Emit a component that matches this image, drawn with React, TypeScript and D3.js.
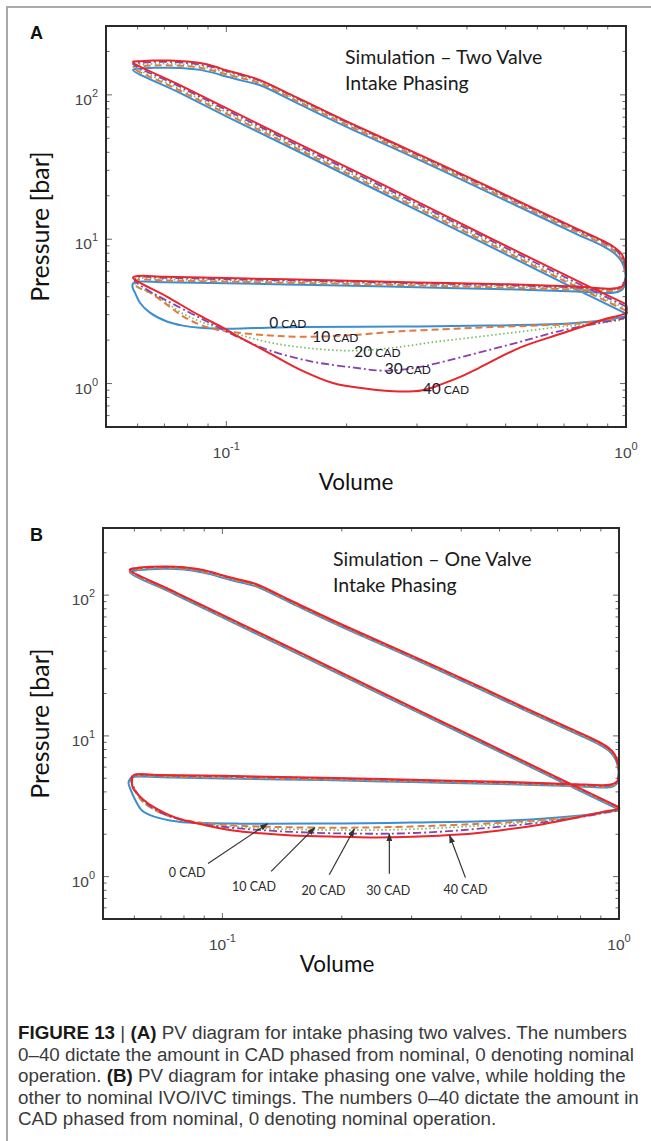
import React from 'react';
import * as d3 from 'd3';

type Pt = [number, number];

// axis domains (volume normalised, pressure in bar)
const volumeDomain: [number, number] = [0.05, 1];
const pressureDomain: [number, number] = [0.5, 300];

const cadLabels = ['0', '10', '20', '30', '40'];

// ---- Panel A: two valve intake phasing, [volume, pressure]
const twoValve0: Pt[] = [
  [1.0, 3.05], [0.7, 4.95], [0.45, 9.1], [0.25, 20.4], [0.15, 41], [0.1, 71], [0.075, 106], [0.0584, 149],
  [0.061, 152], [0.066, 154], [0.0723, 154], [0.08, 152], [0.0859, 149], [0.093, 142], [0.1, 134], [0.11, 125],
  [0.121, 117], [0.15, 88], [0.2, 60], [0.3, 36], [0.45, 21.3], [0.6, 14.6], [0.75, 10.9], [0.88, 8.9],
  [0.94, 7.9], [0.975, 7.0], [0.993, 6.1], [0.998, 5.3], [0.99, 4.7], [0.97, 4.4], [0.93, 4.25],
  [0.75, 4.35], [0.5, 4.5], [0.3, 4.65], [0.18, 4.8], [0.1, 4.95], [0.07, 5.03], [0.06, 5.07],
  [0.0585, 4.95], [0.0582, 4.75], [0.0585, 4.5], [0.0591, 4.26], [0.0608, 3.63], [0.0644, 3.1], [0.071, 2.69],
  [0.0779, 2.52], [0.0859, 2.44], [0.1039, 2.4], [0.1264, 2.44], [0.1528, 2.46], [0.272, 2.48], [0.45, 2.52],
  [0.615, 2.56], [0.75, 2.63], [0.859, 2.72], [0.95, 2.85], [1.0, 2.95], [1.0, 3.05],
];
const twoValve10: Pt[] = [
  [1.0, 3.2], [0.7, 5.15], [0.45, 9.45], [0.25, 21.2], [0.15, 42.5], [0.1, 74], [0.075, 110], [0.0584, 155],
  [0.061, 158], [0.066, 160], [0.0723, 160], [0.08, 158], [0.0859, 154], [0.093, 147], [0.1, 139], [0.11, 130],
  [0.121, 121], [0.15, 91], [0.2, 62], [0.3, 37.2], [0.45, 22], [0.6, 15.1], [0.75, 11.3], [0.88, 9.2],
  [0.94, 8.2], [0.975, 7.25], [0.993, 6.3], [0.999, 5.45], [0.99, 4.85], [0.97, 4.55], [0.93, 4.4],
  [0.75, 4.48], [0.5, 4.62], [0.3, 4.78], [0.18, 4.93], [0.1, 5.08], [0.07, 5.17], [0.06, 5.22],
  [0.0588, 5.0], [0.0598, 4.69], [0.0644, 4.26], [0.071, 3.52], [0.0779, 2.92], [0.0859, 2.56], [0.0947, 2.36],
  [0.1039, 2.27], [0.1264, 2.16], [0.1528, 2.11], [0.204, 2.16], [0.272, 2.3], [0.375, 2.4], [0.458, 2.46],
  [0.615, 2.53], [0.75, 2.6], [0.879, 2.73], [1.0, 2.92], [1.0, 3.2],
];
const twoValve20: Pt[] = [
  [1.0, 3.3], [0.7, 5.3], [0.45, 9.7], [0.25, 21.8], [0.15, 43.5], [0.1, 76], [0.075, 113], [0.0584, 159],
  [0.061, 162], [0.066, 164], [0.0723, 164], [0.08, 162], [0.0859, 158], [0.093, 151], [0.1, 142], [0.11, 133],
  [0.121, 124], [0.15, 93], [0.2, 63.5], [0.3, 38], [0.45, 22.5], [0.6, 15.4], [0.75, 11.5], [0.88, 9.4],
  [0.94, 8.35], [0.975, 7.4], [0.993, 6.45], [0.999, 5.55], [0.99, 4.95], [0.97, 4.62], [0.93, 4.47],
  [0.75, 4.55], [0.5, 4.7], [0.3, 4.86], [0.18, 5.02], [0.1, 5.17], [0.07, 5.27], [0.06, 5.32],
  [0.0589, 5.1], [0.0605, 4.6], [0.0644, 4.32], [0.071, 3.62], [0.0779, 3.05], [0.0859, 2.7], [0.1039, 2.25],
  [0.129, 1.92], [0.1637, 1.75], [0.2085, 1.69], [0.2655, 1.78], [0.336, 1.95], [0.428, 2.11], [0.545, 2.29],
  [0.69, 2.48], [0.879, 2.64], [1.0, 2.88], [1.0, 3.3],
];
const twoValve30: Pt[] = [
  [1.0, 3.42], [0.7, 5.5], [0.45, 10.05], [0.25, 22.6], [0.15, 45], [0.1, 78.5], [0.075, 117], [0.0584, 164],
  [0.061, 167], [0.066, 169], [0.0723, 169], [0.08, 166], [0.0859, 162], [0.093, 155], [0.1, 146], [0.11, 136],
  [0.121, 126], [0.15, 95], [0.2, 64.7], [0.3, 38.7], [0.45, 22.9], [0.6, 15.7], [0.75, 11.7], [0.88, 9.55],
  [0.94, 8.5], [0.975, 7.55], [0.993, 6.6], [0.999, 5.65], [0.99, 5.05], [0.97, 4.7], [0.93, 4.55],
  [0.75, 4.63], [0.5, 4.8], [0.3, 4.95], [0.18, 5.12], [0.1, 5.28], [0.07, 5.4], [0.06, 5.45],
  [0.059, 5.2], [0.0644, 4.35], [0.071, 3.75], [0.0859, 2.85], [0.1039, 2.18], [0.1264, 1.72], [0.1637, 1.42],
  [0.2085, 1.29], [0.246, 1.23], [0.29, 1.27], [0.336, 1.38], [0.428, 1.64], [0.545, 1.95], [0.69, 2.33],
  [0.879, 2.66], [1.0, 2.92], [1.0, 3.42],
];
const twoValve40: Pt[] = [
  [1.0, 3.55], [0.7, 5.7], [0.45, 10.4], [0.25, 23.4], [0.15, 46.5], [0.1, 81], [0.075, 120], [0.0584, 169],
  [0.061, 171], [0.066, 173], [0.0723, 173], [0.08, 170], [0.0859, 166], [0.093, 158], [0.1, 148], [0.11, 138],
  [0.121, 127], [0.15, 96], [0.2, 65.5], [0.3, 39.2], [0.45, 23.3], [0.6, 15.9], [0.75, 11.9], [0.88, 9.7],
  [0.94, 8.7], [0.975, 7.9], [0.993, 7.0], [1.0, 6.0], [0.995, 5.0], [0.97, 4.65], [0.93, 4.55],
  [0.75, 4.7], [0.5, 4.88], [0.3, 5.02], [0.18, 5.2], [0.1, 5.38], [0.07, 5.5], [0.06, 5.56],
  [0.0584, 5.41], [0.071, 4.0], [0.0859, 2.95], [0.098, 2.44], [0.1039, 2.22], [0.1264, 1.66], [0.1528, 1.25],
  [0.1847, 1.01], [0.2246, 0.92], [0.2716, 0.88], [0.31, 0.9], [0.346, 0.99], [0.39, 1.13], [0.428, 1.28],
  [0.545, 1.78], [0.69, 2.22], [0.879, 2.78], [1.0, 3.12], [1.0, 3.55],
];
const twoValveSeries = [twoValve0, twoValve10, twoValve20, twoValve30, twoValve40];

// label anchors (left edge, middle) for panel A
const twoValveLabelVolume = [0.128, 0.164, 0.209, 0.249, 0.31];
const twoValveLabelPressure = [2.64, 2.11, 1.66, 1.27, 0.92];

// ---- Panel B: one valve intake phasing
const oneValve0: Pt[] = [
  [1.0, 3.0], [0.7, 4.85], [0.45, 8.9], [0.25, 19.8], [0.15, 40], [0.1, 69.5], [0.075, 103], [0.0584, 146],
  [0.061, 150], [0.066, 153], [0.0723, 154], [0.08, 152], [0.0859, 148], [0.093, 141], [0.1, 133], [0.11, 124],
  [0.121, 116], [0.15, 87], [0.2, 59.5], [0.3, 35.8], [0.45, 21.2], [0.6, 14.5], [0.75, 10.9], [0.88, 8.85],
  [0.94, 7.9], [0.975, 7.0], [0.993, 6.1], [0.998, 5.3], [0.99, 4.65], [0.97, 4.4], [0.93, 4.3],
  [0.75, 4.4], [0.5, 4.55], [0.3, 4.7], [0.18, 4.85], [0.1, 4.98], [0.07, 5.08], [0.06, 5.12],
  [0.0585, 4.95], [0.058, 4.6], [0.0586, 4.2], [0.0603, 3.5], [0.0627, 2.95], [0.067, 2.68], [0.0778, 2.45],
  [0.09, 2.4], [0.11, 2.38], [0.13, 2.38], [0.2, 2.39], [0.3, 2.42], [0.45, 2.47], [0.6, 2.55], [0.8, 2.72],
  [0.93, 2.88], [1.0, 2.98], [1.0, 3.0],
];
const oneValve10: Pt[] = [
  [1.0, 3.05], [0.7, 4.93], [0.45, 9.05], [0.25, 20.1], [0.15, 40.6], [0.1, 70.5], [0.075, 104.5], [0.0584, 148],
  [0.061, 152], [0.066, 155], [0.0723, 156], [0.08, 154], [0.0859, 150], [0.093, 143], [0.1, 135], [0.11, 126],
  [0.121, 117.5], [0.15, 88.2], [0.2, 60.3], [0.3, 36.3], [0.45, 21.5], [0.6, 14.7], [0.75, 11.05], [0.88, 8.97],
  [0.94, 8.0], [0.975, 7.1], [0.993, 6.2], [0.999, 5.35], [0.99, 4.7], [0.97, 4.45], [0.93, 4.35],
  [0.75, 4.45], [0.5, 4.6], [0.3, 4.76], [0.18, 4.91], [0.1, 5.05], [0.07, 5.14], [0.06, 5.18],
  [0.0588, 5.0], [0.0592, 4.6], [0.0605, 4.0], [0.063, 3.4], [0.068, 2.95], [0.076, 2.62], [0.09, 2.4],
  [0.11, 2.3], [0.14, 2.25], [0.171, 2.23], [0.22, 2.23], [0.3, 2.27], [0.4, 2.34], [0.55, 2.45], [0.75, 2.63],
  [0.9, 2.82], [1.0, 2.98], [1.0, 3.05],
];
const oneValve20: Pt[] = [
  [1.0, 3.08], [0.7, 4.98], [0.45, 9.13], [0.25, 20.3], [0.15, 41], [0.1, 71.2], [0.075, 105.5], [0.0584, 149.5],
  [0.061, 153.5], [0.066, 156.5], [0.0723, 157.5], [0.08, 155.5], [0.0859, 151.5], [0.093, 144.5], [0.1, 136.4],
  [0.11, 127.2], [0.121, 118.6], [0.15, 89], [0.2, 60.9], [0.3, 36.6], [0.45, 21.7], [0.6, 14.85], [0.75, 11.15],
  [0.88, 9.05], [0.94, 8.08], [0.975, 7.18], [0.993, 6.28], [0.999, 5.4], [0.99, 4.75], [0.97, 4.5], [0.93, 4.38],
  [0.75, 4.48], [0.5, 4.63], [0.3, 4.8], [0.18, 4.95], [0.1, 5.1], [0.07, 5.19], [0.06, 5.22],
  [0.0589, 5.05], [0.0594, 4.5], [0.061, 3.9], [0.064, 3.3], [0.069, 2.9], [0.077, 2.58], [0.09, 2.37],
  [0.11, 2.25], [0.14, 2.18], [0.18, 2.15], [0.215, 2.14], [0.28, 2.16], [0.38, 2.24], [0.5, 2.35], [0.7, 2.56],
  [0.88, 2.8], [1.0, 2.98], [1.0, 3.08],
];
const oneValve30: Pt[] = [
  [1.0, 3.1], [0.7, 5.01], [0.45, 9.2], [0.25, 20.5], [0.15, 41.4], [0.1, 71.8], [0.075, 106.4], [0.0584, 151],
  [0.061, 155], [0.066, 158], [0.0723, 159], [0.08, 157], [0.0859, 153], [0.093, 146], [0.1, 137.6], [0.11, 128.3],
  [0.121, 119.6], [0.15, 89.8], [0.2, 61.4], [0.3, 36.9], [0.45, 21.9], [0.6, 14.97], [0.75, 11.25], [0.88, 9.13],
  [0.94, 8.15], [0.975, 7.25], [0.993, 6.35], [0.999, 5.45], [0.99, 4.8], [0.97, 4.54], [0.93, 4.42],
  [0.75, 4.52], [0.5, 4.67], [0.3, 4.84], [0.18, 5.0], [0.1, 5.15], [0.07, 5.23], [0.06, 5.26],
  [0.059, 5.1], [0.0594, 4.45], [0.0615, 3.8], [0.065, 3.25], [0.07, 2.85], [0.078, 2.55], [0.09, 2.35],
  [0.11, 2.2], [0.14, 2.1], [0.18, 2.04], [0.22, 2.02], [0.264, 2.02], [0.35, 2.08], [0.45, 2.2], [0.6, 2.38],
  [0.8, 2.65], [0.93, 2.87], [1.0, 3.0], [1.0, 3.1],
];
const oneValve40: Pt[] = [
  [1.0, 3.12], [0.7, 5.05], [0.45, 9.25], [0.25, 20.6], [0.15, 41.7], [0.1, 72.4], [0.075, 107], [0.0584, 152],
  [0.061, 156], [0.066, 159], [0.0723, 160], [0.08, 158], [0.0859, 154], [0.093, 147], [0.1, 138.5], [0.11, 129],
  [0.121, 120.5], [0.15, 90.5], [0.2, 61.9], [0.3, 37.2], [0.45, 22.1], [0.6, 15.1], [0.75, 11.35], [0.88, 9.22],
  [0.94, 8.25], [0.975, 7.4], [0.993, 6.5], [1.0, 5.6], [0.995, 4.85], [0.97, 4.58], [0.93, 4.47],
  [0.75, 4.56], [0.5, 4.72], [0.3, 4.88], [0.18, 5.04], [0.1, 5.2], [0.07, 5.28], [0.06, 5.31],
  [0.0594, 5.15], [0.0594, 4.3], [0.063, 3.55], [0.068, 3.05], [0.076, 2.63], [0.09, 2.33], [0.1064, 2.13],
  [0.125, 2.03], [0.15, 1.96], [0.2, 1.92], [0.243, 1.9], [0.3, 1.92], [0.394, 1.99], [0.5, 2.13], [0.643, 2.36],
  [0.8, 2.66], [0.92, 2.9], [1.0, 3.05], [1.0, 3.12],
];
const oneValveSeries = [oneValve0, oneValve10, oneValve20, oneValve30, oneValve40];

// arrow annotations for panel B: label centre, arrow tail, arrow tip
const oneValveLabelPos: Pt[] = [[0.0815, 1.07], [0.1202, 0.85], [0.18, 0.795], [0.262, 0.795], [0.41, 0.81]];
const oneValveArrowTail: Pt[] = [[0.092, 1.24], [0.1327, 1.09], [0.186, 1.03], [0.2636, 1.05], [0.41, 0.984]];
const oneValveArrowTip: Pt[] = [[0.13, 2.38], [0.171, 2.23], [0.215, 2.18], [0.2636, 2.02], [0.374, 1.96]];

const lineStyles = [
  { color: '#3a8fd3', dash: undefined, width: 2 },
  { color: '#e4783d', dash: '7,4', width: 2 },
  { color: '#72bd62', dash: '1.5,2.5', width: 1.7 },
  { color: '#8b41ad', dash: '8,3,2,3', width: 1.8 },
  { color: '#e8262b', dash: undefined, width: 2 },
];

// caption: each line is a list of [text, bold]
const captionLines: [string, boolean][][] = [
  [['FIGURE 13', true], [' | ', false], ['(A)', true], [' PV diagram for intake phasing two valves. The numbers', false]],
  [['0–40 dictate the amount in CAD phased from nominal, 0 denoting nominal', false]],
  [['operation. ', false], ['(B)', true], [' PV diagram for intake phasing one valve, while holding the', false]],
  [['other to nominal IVO/IVC timings. The numbers 0–40 dictate the amount in', false]],
  [['CAD phased from nominal, 0 denoting nominal operation.', false]],
];

const axisFont = '"Liberation Sans", Arial, sans-serif';
const calibriLike = 'Lato, "Open Sans", sans-serif';

const isMajor = (t: number) => Math.abs(Math.log10(t) - Math.round(Math.log10(t))) < 1e-6;

interface PanelProps {
  id: string;
  left: number;
  top: number;
  width: number;
  height: number;
  series: Pt[][];
  title: string[];
  titleX: number;
  volumeX: number;
  volumeY: number;
  renderNotes: (x: d3.ScaleLogarithmic<number, number>, y: d3.ScaleLogarithmic<number, number>) => React.ReactNode;
}

function Panel({ id, left, top, width, height, series, title, titleX, volumeX, volumeY, renderNotes }: PanelProps) {
  const x = d3.scaleLog().domain(volumeDomain).range([left, left + width]);
  const y = d3.scaleLog().domain(pressureDomain).range([top + height, top]);
  const line = d3.line<Pt>()
    .x(d => x(d[0]))
    .y(d => y(d[1]))
    .curve(d3.curveCatmullRom.alpha(0.5));

  const xTicks = x.ticks();
  const yTicks = y.ticks();
  const bottom = top + height;
  const right = left + width;

  return (
    <g>
      <text x={30} y={top + 13} fontFamily={axisFont} fontWeight="bold" fontSize={18} fill="#111">{id}</text>

      {/* ticks inside the box, on all four sides */}
      <g stroke="#666" strokeWidth={1}>
        {xTicks.map((t, i) => {
          const len = isMajor(t) ? 6 : 3.5;
          return (
            <g key={'x' + i}>
              <line x1={x(t)} x2={x(t)} y1={bottom} y2={bottom - len} />
              <line x1={x(t)} x2={x(t)} y1={top} y2={top + len} />
            </g>
          );
        })}
        {yTicks.map((t, i) => {
          const len = isMajor(t) ? 6 : 3.5;
          return (
            <g key={'y' + i}>
              <line x1={left} x2={left + len} y1={y(t)} y2={y(t)} />
              <line x1={right} x2={right - len} y1={y(t)} y2={y(t)} />
            </g>
          );
        })}
      </g>

      {/* cycle curves */}
      {series.map((s, i) => (
        <path
          key={i}
          d={line(s) || ''}
          fill="none"
          stroke={lineStyles[i].color}
          strokeWidth={lineStyles[i].width}
          strokeDasharray={lineStyles[i].dash}
          strokeLinejoin="round"
        />
      ))}

      <rect x={left} y={top} width={width} height={height} fill="none" stroke="#2a2a2a" strokeWidth={2} />

      {/* tick labels */}
      {xTicks.filter(isMajor).map((t, i) => (
        <text key={'xl' + i} x={x(t)} y={bottom + 31} textAnchor="middle" fontFamily={axisFont} fontSize={15.5} fill="#444">
          10<tspan dy={-8} fontSize={11}>{Math.round(Math.log10(t))}</tspan>
        </text>
      ))}
      {yTicks.filter(isMajor).map((t, i) => (
        <text key={'yl' + i} x={left - 8} y={y(t) + 10} textAnchor="end" fontFamily={axisFont} fontSize={15.5} fill="#444">
          10<tspan dy={-8} fontSize={11}>{Math.round(Math.log10(t))}</tspan>
        </text>
      ))}

      <text
        transform={`translate(49, ${top + height / 2}) rotate(-90)`}
        textAnchor="middle"
        fontFamily={calibriLike}
        fontSize={25}
        fill="#111"
      >
        Pressure [bar]
      </text>
      <text x={volumeX} y={volumeY} textAnchor="middle" fontFamily={calibriLike} fontSize={22.5} fill="#111">
        Volume
      </text>

      {title.map((t, i) => (
        <text key={'t' + i} x={titleX} y={top + 38 + i * 26} fontFamily={calibriLike} fontSize={19.5} fill="#1a1a1a">
          {t}
        </text>
      ))}

      {renderNotes(x, y)}
    </g>
  );
}

export default function App() {
  return (
    <div style={{ position: 'absolute', left: 0, top: 0 }}>
      <svg width={651} height={1141} style={{ display: 'block', background: '#fff' }}>
        <defs>
          <marker id="arrowHead" viewBox="0 0 10 10" refX={9} refY={5} markerWidth={7} markerHeight={7} orient="auto">
            <path d="M0,1.5 L10,5 L0,8.5 z" fill="#333" />
          </marker>
        </defs>

        {/* figure frame */}
        <line x1={7} x2={651} y1={7} y2={7} stroke="#a9a9a9" strokeWidth={2} />
        <line x1={7} x2={7} y1={6} y2={1141} stroke="#a9a9a9" strokeWidth={2} />

        <Panel
          id="A"
          left={106}
          top={26}
          width={520}
          height={401}
          series={twoValveSeries}
          title={['Simulation – Two Valve', 'Intake Phasing']}
          titleX={345}
          volumeX={356}
          volumeY={490}
          renderNotes={(x, y) => (
            <g fontFamily={calibriLike} fill="#1b1b2a">
              {cadLabels.map((c, i) => (
                <text key={i} x={x(twoValveLabelVolume[i])} y={y(twoValveLabelPressure[i]) + 5}>
                  <tspan fontSize={15.5}>{c}</tspan>
                  <tspan fontSize={12}> CAD</tspan>
                </text>
              ))}
            </g>
          )}
        />

        <Panel
          id="B"
          left={103}
          top={528}
          width={516}
          height={391}
          series={oneValveSeries}
          title={['Simulation – One Valve', 'Intake Phasing']}
          titleX={333}
          volumeX={337}
          volumeY={972}
          renderNotes={(x, y) => (
            <g>
              {cadLabels.map((c, i) => (
                <g key={i}>
                  <line
                    x1={x(oneValveArrowTail[i][0])}
                    y1={y(oneValveArrowTail[i][1])}
                    x2={x(oneValveArrowTip[i][0])}
                    y2={y(oneValveArrowTip[i][1])}
                    stroke="#333"
                    strokeWidth={1.2}
                    markerEnd="url(#arrowHead)"
                  />
                  <text
                    x={x(oneValveLabelPos[i][0])}
                    y={y(oneValveLabelPos[i][1]) + 4.5}
                    textAnchor="middle"
                    fontFamily={calibriLike}
                    fontSize={12.5}
                    fill="#2a2a2a"
                  >
                    {c} CAD
                  </text>
                </g>
              ))}
            </g>
          )}
        />

        {/* caption */}
        <g fontFamily={axisFont} fontSize={18.8} fill="#3a3a3a">
          {captionLines.map((ln, i) => (
            <text key={i} x={18} y={1039 + i * 21.5} xmlSpace="preserve">
              {ln.map(([s, b], j) => (
                <tspan key={j} fontWeight={b ? 'bold' : 'normal'} fill={b ? '#1a1a1a' : '#3a3a3a'}>
                  {s}
                </tspan>
              ))}
            </text>
          ))}
        </g>
      </svg>
    </div>
  );
}
